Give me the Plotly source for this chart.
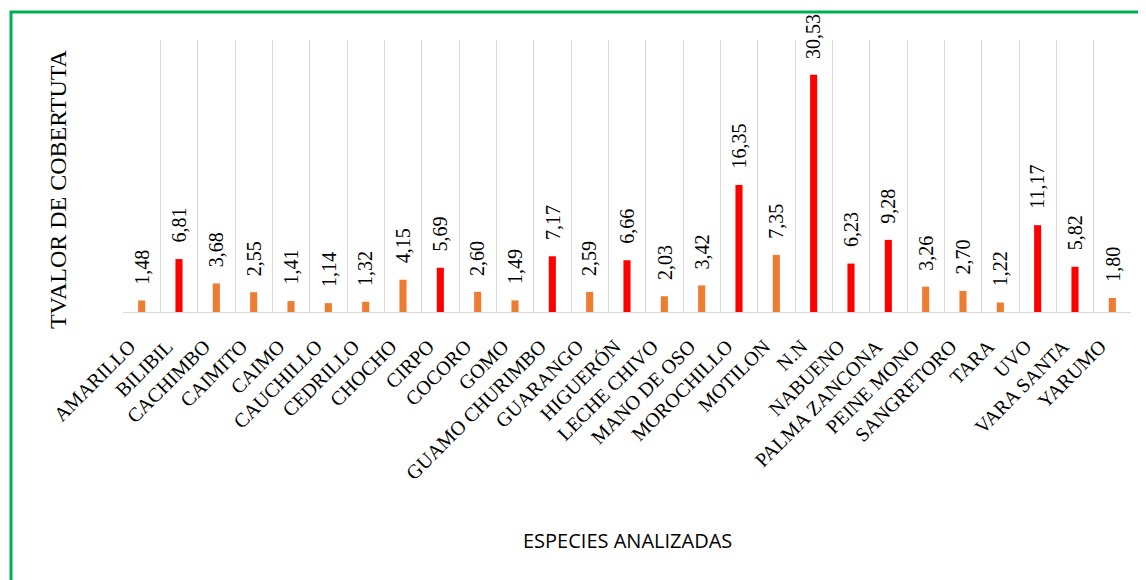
import plotly.graph_objects as go

species = ["AMARILLO", "BILIBIL", "CACHIMBO", "CAIMITO", "CAIMO", "CAUCHILLO", "CEDRILLO",
           "CHOCHO", "CIRPO", "COCORO", "GOMO", "GUAMO CHURIMBO", "GUARANGO", "HIGUERÓN",
           "LECHE CHIVO", "MANO DE OSO", "MOROCHILLO", "MOTILON", "N.N", "NABUENO",
           "PALMA ZANCONA", "PEINE MONO", "SANGRETORO", "TARA", "UVO", "VARA SANTA", "YARUMO"]
values = [1.48, 6.81, 3.68, 2.55, 1.41, 1.14, 1.32, 4.15, 5.69, 2.60, 1.49, 7.17, 2.59, 6.66,
          2.03, 3.42, 16.35, 7.35, 30.53, 6.23, 9.28, 3.26, 2.70, 1.22, 11.17, 5.82, 1.80]
highlight = [0, 1, 0, 0, 0, 0, 0, 0, 1, 0, 0, 1, 0, 1, 0, 0, 1, 0, 1, 1, 1, 0, 0, 0, 1, 1, 0]

ORANGE = "#ED7D31"
RED = "#FF0000"
colors = [RED if h else ORANGE for h in highlight]
labels = [f"{v:.2f}".replace(".", ",") for v in values]

fig = go.Figure()
fig.add_trace(go.Bar(x=species, y=values, marker=dict(color=colors, line=dict(width=0)),
                     width=0.19, hoverinfo="x+y"))

for s, v, t in zip(species, values, labels):
    fig.add_annotation(x=s, y=v, text=t, textangle=-90, showarrow=False,
                       xanchor="center", yanchor="bottom", yshift=14,
                       font=dict(family="Liberation Serif", size=20, color="#000000"))

# page offset of the plotly div (body margin)
OFF = 8
PW, PH = 1146, 580
W, H = PW - OFF, PH - OFF
# plot area in page pixels
PL, PR, PT, PB = 123, 1131, 40, 312
L, T = PL - OFF, PT - OFF
R, B = W - (PR - OFF), H - (PB - OFF)
pw, ph = W - L - R, H - T - B

def px(x):
    return (x - OFF - L) / pw

def py(y):
    return (H - B - (y - OFF)) / ph

fig.add_shape(type="rect", xref="paper", yref="paper",
              x0=px(11), x1=px(1170), y0=py(600), y1=py(12),
              line=dict(color="#00B050", width=3), fillcolor="rgba(0,0,0,0)", layer="above")

fig.add_annotation(xref="paper", yref="paper", x=px(58), y=py(189), text="TVALOR DE COBERTUTA",
                   textangle=-90, showarrow=False, xanchor="center", yanchor="middle",
                   font=dict(family="Liberation Serif", size=24, color="#000000"))
fig.add_annotation(xref="paper", yref="paper", x=px(627), y=py(540), text="ESPECIES ANALIZADAS",
                   showarrow=False, xanchor="center", yanchor="middle",
                   font=dict(family="Open Sans", size=20, color="#000000"))

fig.update_layout(
    width=W, height=H,
    margin=dict(l=L, r=R, t=T, b=B, autoexpand=False),
    paper_bgcolor="white", plot_bgcolor="white",
    showlegend=False,
    xaxis=dict(
        type="category",
        tickson="boundaries",
        showgrid=True, gridcolor="#D9D9D9", gridwidth=1,
        showline=True, linecolor="#D9D9D9", linewidth=1,
        ticks="", tickangle=-45,
        ticklabelstandoff=14,
        ticklabelshift=-12,
        tickfont=dict(family="Liberation Serif", size=20, color="#000000"),
        automargin=False,
    ),
    yaxis=dict(
        range=[0, 35], showgrid=False, showticklabels=False, zeroline=False,
        showline=False, ticks="", automargin=False,
    ),
)

fig.write_html("out.html")
